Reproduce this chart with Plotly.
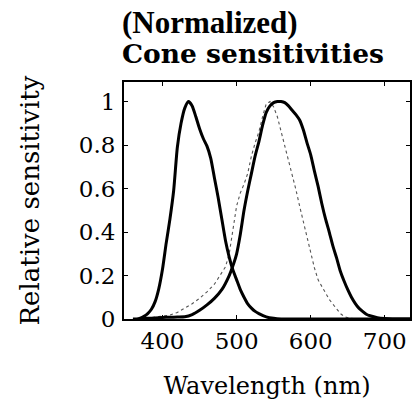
import plotly.graph_objects as go

# S cone (short wavelength), solid
s_wl = [360, 365, 370, 375, 380, 385, 390, 395, 400, 405, 410, 415, 420, 425, 430, 435, 440,
        445, 450, 455, 460, 465, 470, 475, 480, 485, 490, 495, 500, 505, 510, 515, 520, 525,
        530, 540, 550, 560, 600, 650, 700, 735]
s_val = [0.0, 0.0, 0.004, 0.012, 0.025, 0.045, 0.08, 0.14, 0.23, 0.35, 0.46, 0.59, 0.79, 0.90,
         0.97, 1.0, 0.98, 0.93, 0.875, 0.83, 0.795, 0.74, 0.65, 0.56, 0.46, 0.36, 0.285, 0.225,
         0.18, 0.135, 0.10, 0.07, 0.05, 0.035, 0.025, 0.01, 0.003, 0.0, 0.0, 0.0, 0.0, 0.0]

# M cone (medium wavelength), dotted
m_wl = [370, 380, 390, 400, 410, 420, 430, 440, 450, 460, 470, 480, 485, 490, 495, 500, 505,
        510, 515, 520, 525, 530, 535, 540, 545, 550, 555, 560, 565, 570, 575, 580, 585, 590,
        595, 600, 605, 610, 615, 620, 625, 630, 635, 640, 645, 650, 660]
m_val = [0.0, 0.004, 0.008, 0.012, 0.018, 0.03, 0.05, 0.07, 0.095, 0.125, 0.16, 0.21, 0.24,
         0.30, 0.40, 0.52, 0.58, 0.62, 0.67, 0.75, 0.81, 0.86, 0.93, 0.99, 1.0, 0.975, 0.93,
         0.865, 0.79, 0.73, 0.665, 0.595, 0.52, 0.445, 0.37, 0.30, 0.235, 0.18, 0.15, 0.12,
         0.09, 0.068, 0.045, 0.025, 0.012, 0.006, 0.0]

# L cone (long wavelength), solid
l_wl = [370, 380, 390, 400, 410, 420, 430, 440, 450, 460, 470, 480, 490, 495, 500, 505, 510,
        515, 520, 525, 530, 535, 540, 545, 550, 555, 560, 565, 570, 575, 580, 585, 590, 595,
        600, 605, 610, 615, 620, 625, 630, 635, 640, 645, 650, 655, 660, 665, 670, 675, 680,
        690, 700, 710, 735]
l_val = [0.0, 0.003, 0.005, 0.007, 0.008, 0.009, 0.01, 0.02, 0.04, 0.065, 0.095, 0.135, 0.2,
         0.245, 0.30, 0.39, 0.50, 0.59, 0.67, 0.75, 0.815, 0.89, 0.95, 0.98, 0.995, 1.0, 1.0,
         0.995, 0.98, 0.96, 0.94, 0.915, 0.87, 0.81, 0.755, 0.68, 0.61, 0.53, 0.46, 0.40,
         0.335, 0.28, 0.22, 0.175, 0.135, 0.10, 0.072, 0.05, 0.035, 0.022, 0.015, 0.006,
         0.002, 0.0, 0.0]

x_ticks = [400, 500, 600, 700]
y_ticks = [0, 0.2, 0.4, 0.6, 0.8, 1]
y_tick_text = ["0", "0.2", "0.4", "0.6", "0.8", "1"]

fig = go.Figure()
fig.add_trace(go.Scatter(x=m_wl, y=m_val, mode="lines",
                         line=dict(color="#555555", width=1.1, dash="dot"), hoverinfo="skip"))
fig.add_trace(go.Scatter(x=s_wl, y=s_val, mode="lines",
                         line=dict(color="black", width=3, shape="spline", smoothing=0.6), hoverinfo="skip"))
fig.add_trace(go.Scatter(x=l_wl, y=l_val, mode="lines",
                         line=dict(color="black", width=3, shape="spline", smoothing=0.6), hoverinfo="skip"))

tick_font = dict(family="DejaVu Serif", size=23, color="black")

fig.update_layout(
    width=415, height=404, autosize=False,
    margin=dict(l=124, r=3, t=82, b=85, pad=0),
    paper_bgcolor="white", plot_bgcolor="white",
    showlegend=False,
    xaxis=dict(range=[348, 734], tickvals=x_ticks, ticks="inside", ticklen=4, tickcolor="black",
               showline=True, linecolor="black", linewidth=2, mirror="ticks",
               showgrid=False, zeroline=False, tickfont=tick_font,
               title=dict(text="Wavelength (nm)", font=dict(family="DejaVu Serif", size=24, color="black"),
                          standoff=25)),
    yaxis=dict(range=[0, 1.09], tickvals=y_ticks, ticktext=y_tick_text, ticks="inside", ticklen=4,
               tickcolor="black", showline=True, linecolor="black", linewidth=2, mirror="ticks",
               showgrid=False, zeroline=False, tickfont=tick_font, ticklabelstandoff=2,
               title=dict(text="Relative sensitivity", font=dict(family="DejaVu Serif", size=26, color="black"),
                          standoff=32)),
    annotations=[
        dict(text="<b>(Normalized)</b>", xref="paper", yref="paper", x=-0.015, y=1.253,
             xanchor="left", yanchor="middle", showarrow=False,
             font=dict(family="Liberation Serif", size=31, color="black")),
        dict(text="<b>Cone sensitivities</b>", xref="paper", yref="paper", x=-0.015, y=1.12,
             xanchor="left", yanchor="middle", showarrow=False,
             font=dict(family="DejaVu Serif", size=26.5, color="black")),
    ],
)

fig.write_html("out.html", config={"displayModeBar": False},
               post_script="document.body.style.margin='0';document.body.style.padding='0';")
